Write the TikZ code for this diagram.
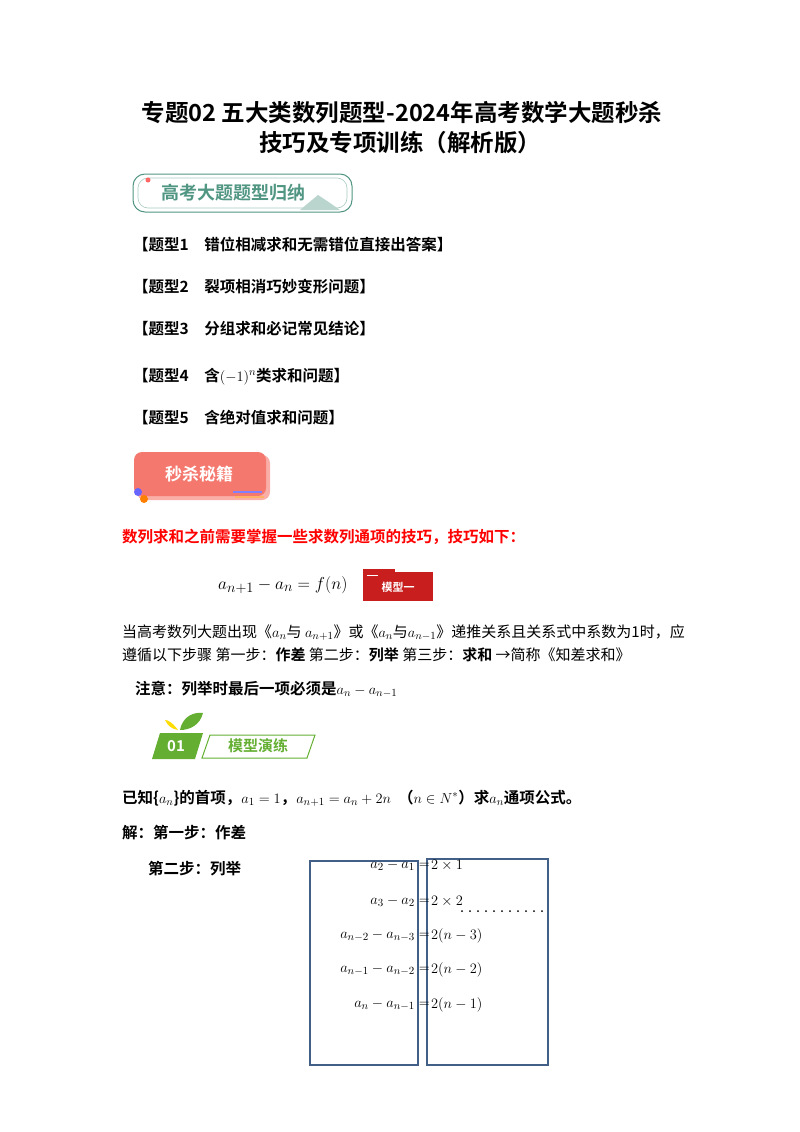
\documentclass[tikz,border=0pt]{standalone}
\usepackage{fontspec}
\setmainfont{Liberation Serif}
\newfontfamily\cjk{Noto Sans CJK SC}
\newfontfamily\cjkb{Noto Sans CJK SC Bold}
\begin{document}
\begin{tikzpicture}[x=1pt,y=-1pt,
  txt/.style={anchor=west,inner sep=0pt,font=\cjk\fontsize{15}{17}\selectfont},
  btxt/.style={anchor=west,inner sep=0pt,font=\cjkb\fontsize{15.5}{17}\selectfont},
  eq/.style={anchor=east,inner sep=0pt,font=\fontsize{15}{17}\selectfont},
  eqr/.style={anchor=west,inner sep=0pt,font=\fontsize{15}{17}\selectfont},
  bx/.style={draw=boxc,line width=1.2pt}]
\definecolor{bgreen}{RGB}{80,150,130}
\definecolor{salmon}{RGB}{245,120,110}
\definecolor{dred}{RGB}{200,30,30}
\definecolor{lgreen}{RGB}{100,175,50}
\definecolor{boxc}{RGB}{65,95,135}
\useasboundingbox (0,0) rectangle (800,1132);
\node[inner sep=0pt,font=\cjkb\fontsize{23.5}{26}\selectfont] (t1) at (402,113) {专题02 五大类数列题型-2024年高考数学大题秒杀};
\node[inner sep=0pt,font=\cjkb\fontsize{23.5}{26}\selectfont] (t2) at (400,143) {技巧及专项训练（解析版）};
% banner 1
\draw[bgreen,line width=1pt,fill=white,rounded corners=12pt] (133,174) rectangle (352,212);
\draw[bgreen!50,line width=0.6pt,rounded corners=10pt] (138,178) rectangle (347,208);
\fill[bgreen!40] (300,210) -- (318,195) -- (330,203) -- (340,210) -- cycle;
\fill[red!60] (148,180) circle (2.5);
\node[inner sep=0pt,font=\cjkb\fontsize{18}{20}\selectfont,text=bgreen] (b1) at (233,193) {高考大题题型归纳};
\node[btxt] (i1) at (133,245) {【题型1\quad 错位相减求和无需错位直接出答案】};
\node[btxt] (i2) at (133,287) {【题型2\quad 裂项相消巧妙变形问题】};
\node[btxt] (i3) at (133,329) {【题型3\quad 分组求和必记常见结论】};
\node[btxt] (i4) at (133,377) {【题型4\quad 含$\left(-1\right)^{n}$类求和问题】};
\node[btxt] (i5) at (133,418) {【题型5\quad 含绝对值求和问题】};
% banner 2
\fill[salmon!60,rounded corners=8pt] (137,455) rectangle (270,500);
\fill[salmon,rounded corners=8pt] (134,452) rectangle (266,496);
\fill[blue!60] (138,492) circle (4);
\fill[orange] (144,499) circle (4);
\fill[blue!50] (233,491) rectangle (262,493);
\fill[orange!60] (235,496) rectangle (264,498);
\node[inner sep=0pt,font=\cjkb\fontsize{17}{19}\selectfont,text=white] (b2) at (199,474) {秒杀秘籍};
\node[btxt,text=red] (r1) at (122,537) {数列求和之前需要掌握一些求数列通项的技巧，技巧如下：};
\node[eqr,font=\fontsize{19}{21}\selectfont] (f1) at (218,585) {$a_{n+1}-a_n=f(n)$};
\fill[dred] (363,572) rectangle (433,601);
\fill[dred] (363,569) rectangle (395,575);
\draw[white,line width=1pt] (367,575) -- (378,575);
\node[inner sep=0pt,font=\cjkb\fontsize{11}{12}\selectfont,text=white] (m1) at (398,587) {模型一};
\node[txt] (p1) at (122,633) {当高考数列大题出现《$a_n$与\ $a_{n+1}$》或《$a_n$与$a_{n-1}$》递推关系且关系式中系数为1时，应};
\node[txt] (p2) at (122,655) {遵循以下步骤 第一步：{\cjkb 作差} 第二步：{\cjkb 列举} 第三步：{\cjkb 求和} →简称《知差求和》};
\node[btxt] (n1) at (135,689) {注意：列举时最后一项必须是$a_n-a_{n-1}$};
% badge 01
\fill[lgreen] (160,733) -- (203,733) -- (195,759) -- (152,759) -- cycle;
\draw[lgreen,line width=1pt] (210,735) -- (315,735) -- (307,758) -- (202,758) -- cycle;
\fill[lgreen] (180,730) .. controls (183,715) and (195,712) .. (203,713) .. controls (200,725) and (190,730) .. (180,730);
\fill[yellow!80!orange] (178,730) .. controls (172,722) and (168,720) .. (165,720) .. controls (168,726) and (172,729) .. (178,730);
\node[inner sep=0pt,font=\cjkb\fontsize{15}{16}\selectfont,text=white] (b01) at (176,746) {01};
\node[inner sep=0pt,font=\cjkb\fontsize{15}{16}\selectfont,text=lgreen] (b3) at (258,746) {模型演练};
\node[btxt] (k1) at (122,798) {已知\{$a_n$\}的首项，$a_1=1$，$a_{n+1}=a_n+2n$ \ （$n\in N^*$）求$a_n$通项公式。};
\node[btxt] (s1) at (122,833) {解：第一步：作差};
\node[btxt] (s2) at (148,869) {第二步：列举};
\draw[bx] (310,861) rectangle (418,1065);
\draw[bx] (427,859) rectangle (548,1065);
\node[eq] (e1) at (430,865) {$a_2-a_1=$}; \node[eqr] at (431,865) {$2\times1$};
\node[eq] (e2) at (430,901) {$a_3-a_2=$}; \node[eqr] at (431,901) {$2\times2$};
\node[eq] (e3) at (430,936) {$a_{n-2}-a_{n-3}=$}; \node[eqr] at (431,936) {$2(n-3)$};
\node[eq] (e4) at (430,970) {$a_{n-1}-a_{n-2}=$}; \node[eqr] at (431,970) {$2(n-2)$};
\node[eq] (e5) at (430,1005) {$a_{n}-a_{n-1}=$}; \node[eqr] at (431,1005) {$2(n-1)$};
\foreach \i in {0,...,10} \fill (462+\i*8,911) circle (1);
\end{tikzpicture}
\end{document}
